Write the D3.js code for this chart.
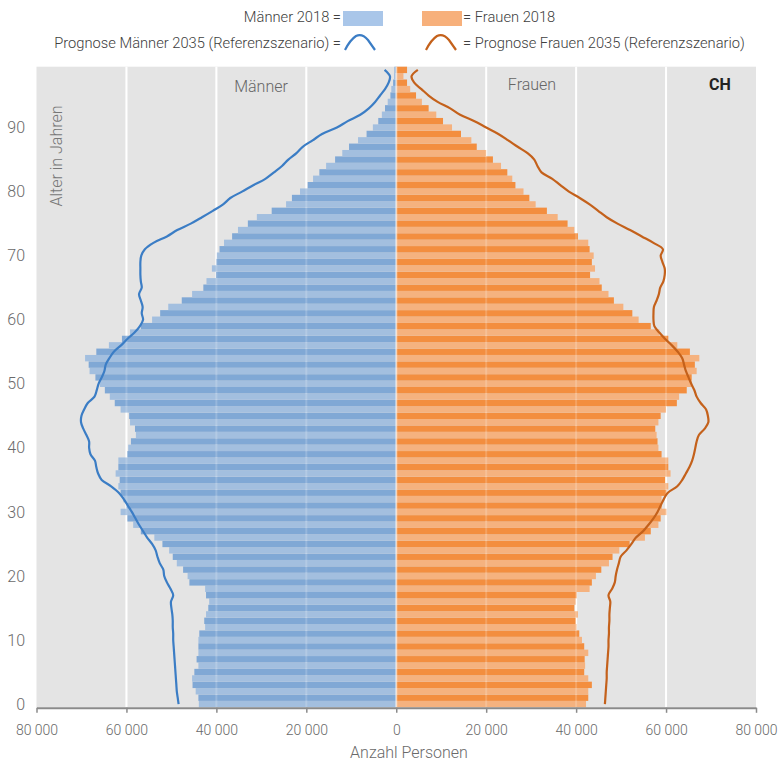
<!DOCTYPE html>
<html>
<head>
<meta charset="utf-8">
<script src="https://cdn.jsdelivr.net/npm/d3@7"></script>
<style>
  body { margin: 0; background: #fff; }
  text { font-family: Roboto, "Noto Sans", sans-serif; }
</style>
</head>
<body>
<svg id="chart"></svg>
<script>
// Alter 0..99 (unten nach oben)
const ages = d3.range(0, 100);

// Ständige Wohnbevölkerung 2018, Personen je Altersjahr
const men2018 = [43900, 44000, 44600, 45300, 45400, 44900, 44000, 44400, 44000, 44000,
  44000, 43800, 42500, 42700, 42300, 41800, 41600, 42300, 42500, 46000,
  46400, 47400, 48800, 49700, 50500, 52000, 53800, 56800, 58500, 59800,
  61300, 60000, 60700, 61300, 61800, 61500, 62400, 61800, 61800, 59800,
  59600, 59000, 57900, 58100, 59200, 59400, 61300, 62600, 63700, 64800,
  65900, 66900, 68200, 68400, 69200, 66700, 63900, 61000, 59200, 56800,
  54300, 52500, 50700, 47700, 45400, 42900, 42200, 40100, 41000, 40000,
  39900, 39300, 38300, 36500, 35200, 33000, 31000, 27700, 24500, 23200,
  21400, 19700, 18500, 17100, 15600, 13600, 12000, 10500, 8500, 6600,
  5200, 4000, 3200, 2500, 1900, 1300, 1100, 700, 500, 400];

const women2018 = [42200, 42700, 42700, 43500, 42700, 41800, 42000, 41900, 42700, 41800,
  41300, 40700, 40100, 39900, 40400, 39600, 39900, 40100, 43000, 43500,
  44400, 45600, 47300, 48100, 49600, 51900, 55300, 56600, 58300, 58800,
  60100, 59000, 59000, 60100, 60500, 59800, 61000, 60500, 60500, 59000,
  58300, 58100, 57900, 57600, 58300, 58800, 60000, 62400, 62900, 64600,
  65700, 65700, 66800, 66400, 67400, 65300, 62500, 60500, 58500, 56600,
  53900, 52500, 50500, 48400, 47200, 45700, 45200, 43100, 44200, 43500,
  43900, 43000, 42700, 40400, 39600, 38100, 35900, 33500, 31000, 29600,
  28300, 26500, 25800, 24700, 23300, 21500, 20000, 17900, 16700, 14400,
  12400, 10400, 8900, 7200, 5700, 4400, 3100, 2400, 1600, 2400];

// Prognose 2035 (Referenzszenario)
const men2035 = [48400, 48600, 48800, 48900, 49000, 49100, 49200, 49300, 49400, 49500,
  49600, 49600, 49700, 49700, 49800, 50000, 50100, 49600, 50200, 51000,
  51600, 51800, 52600, 53100, 53500, 54300, 55400, 56300, 57200, 58000,
  58800, 59700, 60600, 61700, 63400, 65500, 66300, 66700, 67000, 68000,
  68300, 68300, 68900, 69600, 70100, 70000, 69400, 68600, 67100, 66600,
  66200, 65500, 64900, 64600, 63800, 62800, 61200, 59800, 58200, 57000,
  56300, 56600, 56400, 56800, 57200, 56600, 56800, 56900, 56900, 56900,
  56700, 55900, 54000, 51000, 48700, 45700, 43200, 40800, 38500, 36900,
  34300, 31800, 29100, 27200, 25400, 24000, 22200, 20800, 18600, 16500,
  13200, 10800, 8000, 6100, 4700, 3600, 2500, 1700, 1400, 2600];

const women2035 = [46400, 46500, 46600, 46700, 46800, 46800, 46900, 47000, 47100, 47200,
  47200, 47300, 47300, 47400, 47400, 47500, 47600, 47200, 48000, 48600,
  48800, 49100, 49500, 49900, 51200, 52300, 53300, 54900, 56100, 57200,
  58100, 58800, 59500, 60400, 62500, 63600, 64400, 65200, 65800, 66200,
  66500, 66800, 67300, 68600, 69400, 69300, 68900, 67700, 66800, 66300,
  65600, 65000, 64400, 64000, 63600, 62600, 61300, 59800, 58500, 57400,
  57200, 57200, 57300, 57900, 58400, 58700, 59400, 59700, 59700, 59200,
  58800, 59300, 57200, 54600, 52000, 49200, 46800, 44900, 43000, 40800,
  38400, 36500, 34700, 32300, 31400, 30700, 29200, 27000, 24900, 22700,
  20000, 17400, 14200, 12000, 9200, 7200, 5600, 4000, 3400, 4800];

const xTicks = [-80000, -60000, -40000, -20000, 0, 20000, 40000, 60000, 80000];
const gridTicks = [-60000, -40000, -20000, 20000, 40000, 60000];
const ageTicks = [0, 10, 20, 30, 40, 50, 60, 70, 80, 90];

const width = 779, height = 765;
const plot = { left: 36.5, right: 756, top: 66.7, bottom: 707.3 };

const svg = d3.select('#chart')
  .attr('width', width)
  .attr('height', height);

const x = d3.scaleLinear().domain([-80000, 80000]).range([plot.left, plot.right]);
const y = d3.scaleBand().domain(ages).range([plot.bottom, plot.top]).padding(0);
const bw = y.bandwidth();

const locale = d3.formatLocale({ decimal: ',', thousands: ' ', grouping: [3], currency: ['', ''] });
const fmt = locale.format(',d');

// Hintergrund
svg.append('rect')
  .attr('x', plot.left).attr('y', plot.top)
  .attr('width', plot.right - plot.left).attr('height', plot.bottom - plot.top)
  .attr('fill', '#e4e4e4');

// Gitterlinien
svg.append('g').selectAll('line')
  .data(gridTicks).enter().append('line')
  .attr('x1', d => x(d)).attr('x2', d => x(d))
  .attr('y1', plot.top).attr('y2', plot.bottom)
  .attr('stroke', '#fff').attr('stroke-width', 2);

// Balken Männer
svg.append('g').selectAll('rect')
  .data(ages).enter().append('rect')
  .attr('x', a => x(-men2018[a]))
  .attr('y', a => y(a))
  .attr('width', a => x(0) - x(-men2018[a]))
  .attr('height', bw)
  .attr('fill', a => a % 2 ? '#80a8d5' : '#a3bfdf');

// Balken Frauen
svg.append('g').selectAll('rect')
  .data(ages).enter().append('rect')
  .attr('x', x(0))
  .attr('y', a => y(a))
  .attr('width', a => x(women2018[a]) - x(0))
  .attr('height', bw)
  .attr('fill', a => a % 2 ? '#f38e3f' : '#f5b27f');

// Gitter schimmert durch die Balken
svg.append('g').selectAll('line')
  .data(gridTicks).enter().append('line')
  .attr('x1', d => x(d)).attr('x2', d => x(d))
  .attr('y1', plot.top).attr('y2', plot.bottom)
  .attr('stroke', '#fff').attr('stroke-opacity', 0.18).attr('stroke-width', 2);

svg.append('line')
  .attr('x1', x(0)).attr('x2', x(0))
  .attr('y1', plot.top).attr('y2', plot.bottom)
  .attr('stroke', '#fff').attr('stroke-opacity', 0.55).attr('stroke-width', 2);

// Prognose-Linien
const lineMen = d3.line()
  .x(a => x(-men2035[a]))
  .y(a => y(a) + bw / 2)
  .curve(d3.curveCatmullRom.alpha(0.5));
const lineWomen = d3.line()
  .x(a => x(women2035[a]))
  .y(a => y(a) + bw / 2)
  .curve(d3.curveCatmullRom.alpha(0.5));

svg.append('path').datum(ages)
  .attr('d', lineMen)
  .attr('fill', 'none').attr('stroke', '#3b7dc5').attr('stroke-width', 2.2);
svg.append('path').datum(ages)
  .attr('d', lineWomen)
  .attr('fill', 'none').attr('stroke', '#c4611b').attr('stroke-width', 2.2);

// x-Achse
const xAxis = d3.axisBottom(x)
  .tickValues(xTicks)
  .tickFormat(d => fmt(Math.abs(d)))
  .tickSizeInner(5).tickSizeOuter(0);

const gx = svg.append('g')
  .attr('transform', `translate(0, ${plot.bottom + 0.5})`)
  .call(xAxis);
gx.select('.domain').attr('stroke', '#8a8a8a').attr('stroke-width', 2);
gx.selectAll('.tick line').attr('stroke', '#8a8a8a').attr('stroke-width', 1.5);
gx.selectAll('.tick text')
  .attr('y', 17)
  .style('font-family', 'Roboto, sans-serif')
  .style('font-size', '14px')
  .style('font-weight', 300)
  .attr('fill', '#6a6a6a');

svg.append('text')
  .attr('x', 409).attr('y', 758)
  .attr('text-anchor', 'middle')
  .style('font-size', '16px').style('font-weight', 300)
  .attr('fill', '#6a6a6a')
  .text('Anzahl Personen');

// y-Beschriftung
svg.append('g').selectAll('text')
  .data(ageTicks).enter().append('text')
  .attr('x', 25)
  .attr('y', a => y(a) + bw / 2)
  .attr('dy', '0.35em')
  .attr('text-anchor', 'end')
  .style('font-size', '16px').style('font-weight', 300)
  .attr('fill', '#6a6a6a')
  .text(a => a);

svg.append('text')
  .attr('transform', 'translate(62, 156) rotate(-90)')
  .attr('text-anchor', 'middle')
  .style('font-size', '16px').style('font-weight', 300)
  .attr('fill', '#777')
  .text('Alter in Jahren');

// Panel-Titel
svg.append('text').attr('x', 261).attr('y', 92).attr('text-anchor', 'middle')
  .style('font-size', '16px').style('font-weight', 300).attr('fill', '#666').text('Männer');
svg.append('text').attr('x', 532).attr('y', 90).attr('text-anchor', 'middle')
  .style('font-size', '16px').style('font-weight', 300).attr('fill', '#666').text('Frauen');
svg.append('text').attr('x', 720).attr('y', 90).attr('text-anchor', 'middle')
  .style('font-size', '16px').style('font-weight', 700).attr('fill', '#222').text('CH');

// Legende
const legendFont = g => g.style('font-size', '14.7px').style('font-weight', 300).attr('fill', '#404040');

svg.append('text').attr('x', 341).attr('y', 22).attr('text-anchor', 'end')
  .call(legendFont).text('Männer 2018 =');
svg.append('rect').attr('x', 343).attr('y', 11).attr('width', 40).attr('height', 15).attr('fill', '#a9c6e9');
svg.append('rect').attr('x', 422).attr('y', 11).attr('width', 40).attr('height', 15).attr('fill', '#f7b07b');
svg.append('text').attr('x', 463).attr('y', 22).attr('text-anchor', 'start')
  .call(legendFont).text('= Frauen 2018');

svg.append('text').attr('x', 341).attr('y', 48).attr('text-anchor', 'end')
  .call(legendFont).text('Prognose Männer 2035 (Referenzszenario) =');
svg.append('path')
  .attr('d', 'M345,50 Q350,40 356,36 Q362,33 368,40 L375,50')
  .attr('fill', 'none').attr('stroke', '#3b7dc5').attr('stroke-width', 2.2);
svg.append('path')
  .attr('d', 'M426,50 Q431,40 437,36 Q443,33 449,40 L456,50')
  .attr('fill', 'none').attr('stroke', '#c4611b').attr('stroke-width', 2.2);
svg.append('text').attr('x', 463).attr('y', 48).attr('text-anchor', 'start')
  .call(legendFont).text('= Prognose Frauen 2035 (Referenzszenario)');
</script>
</body>
</html>
